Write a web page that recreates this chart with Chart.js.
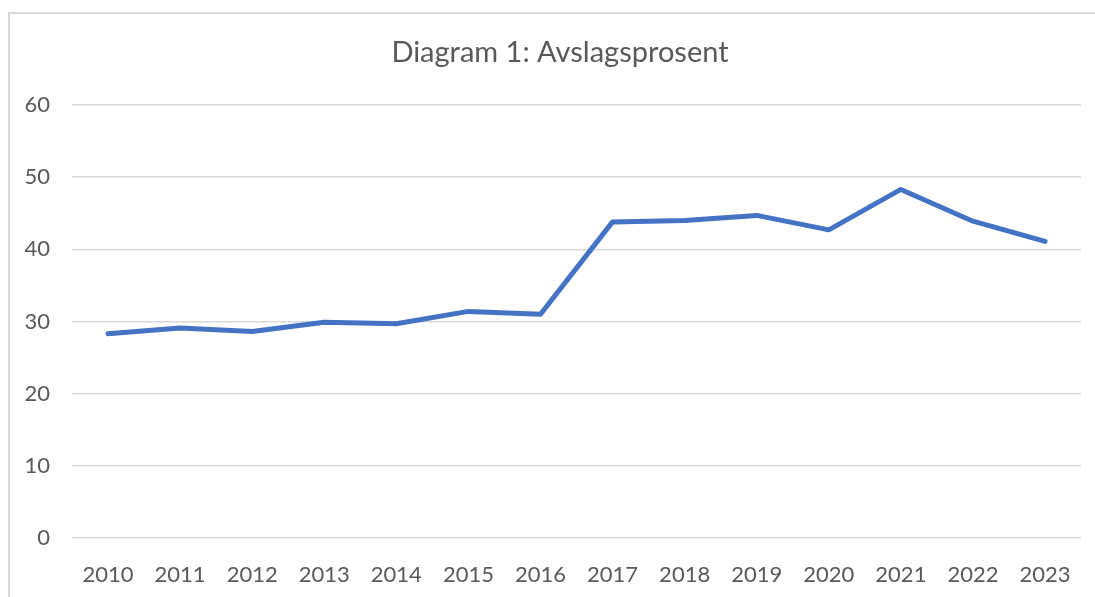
<!DOCTYPE html>
<html>
<head>
<meta charset="utf-8">
<script src="https://cdn.jsdelivr.net/npm/chart.js@4/dist/chart.umd.min.js"></script>
<style>
  html, body { margin: 0; padding: 0; background: #ffffff; overflow: hidden; }
  #wrap { position: relative; width: 1095px; height: 597px; }
  #frame { position: absolute; left: 8px; top: 12px; width: 1200px; height: 700px;
           border-left: 2px solid #d9d9d9; border-top: 2px solid #d9d9d9; box-sizing: border-box; }
  canvas { position: absolute; left: 0; top: 0; }
</style>
</head>
<body>
<div id="wrap">
  <div id="frame"></div>
  <canvas id="c" width="1095" height="597"></canvas>
</div>
<script>
const titleText = "Diagram 1: Avslagsprosent";
const years = ["2010","2011","2012","2013","2014","2015","2016","2017","2018","2019","2020","2021","2022","2023"];
const avslagsprosent = [28.3, 29.1, 28.6, 29.9, 29.7, 31.4, 31.0, 43.8, 44.0, 44.7, 42.7, 48.3, 43.9, 41.1];
const yTicks = [0, 10, 20, 30, 40, 50, 60];

const FONT = "Lato, 'Open Sans', sans-serif";
const TEXT = "#595959";

const titlePlugin = {
  id: 'customTitle',
  afterDraw(chart) {
    const ctx = chart.ctx;
    ctx.save();
    ctx.font = "29px " + FONT;
    ctx.fillStyle = TEXT;
    ctx.textAlign = "center";
    ctx.textBaseline = "middle";
    ctx.fillText(titleText, 560, 53);
    ctx.restore();
  }
};

new Chart(document.getElementById('c'), {
  type: 'line',
  data: {
    labels: years,
    datasets: [{
      data: avslagsprosent,
      borderColor: '#4472C4',
      borderWidth: 5,
      pointRadius: 0,
      borderCapStyle: 'round',
      borderJoinStyle: 'round',
      tension: 0,
      fill: false
    }]
  },
  options: {
    responsive: false,
    animation: false,
    layout: { padding: { top: 105, right: 13, left: 0, bottom: 0 } },
    plugins: { legend: { display: false }, tooltip: { enabled: false } },
    scales: {
      x: {
        offset: true,
        grid: { display: false, drawTicks: false },
        border: { display: false },
        ticks: { color: TEXT, font: { family: FONT, size: 22 }, padding: 24, maxRotation: 0, autoSkip: false },
        afterFit(scale) { scale.height = 59; }
      },
      y: {
        min: 0, max: 60,
        afterBuildTicks(scale) { scale.ticks = yTicks.map(v => ({ value: v })); },
        grid: { color: '#d9d9d9', lineWidth: 1.5, drawTicks: false },
        border: { display: false },
        ticks: { color: TEXT, font: { family: FONT, size: 22 }, padding: 22 },
        afterFit(scale) { scale.width = 72; }
      }
    }
  },
  plugins: [titlePlugin]
});
</script>
</body>
</html>
